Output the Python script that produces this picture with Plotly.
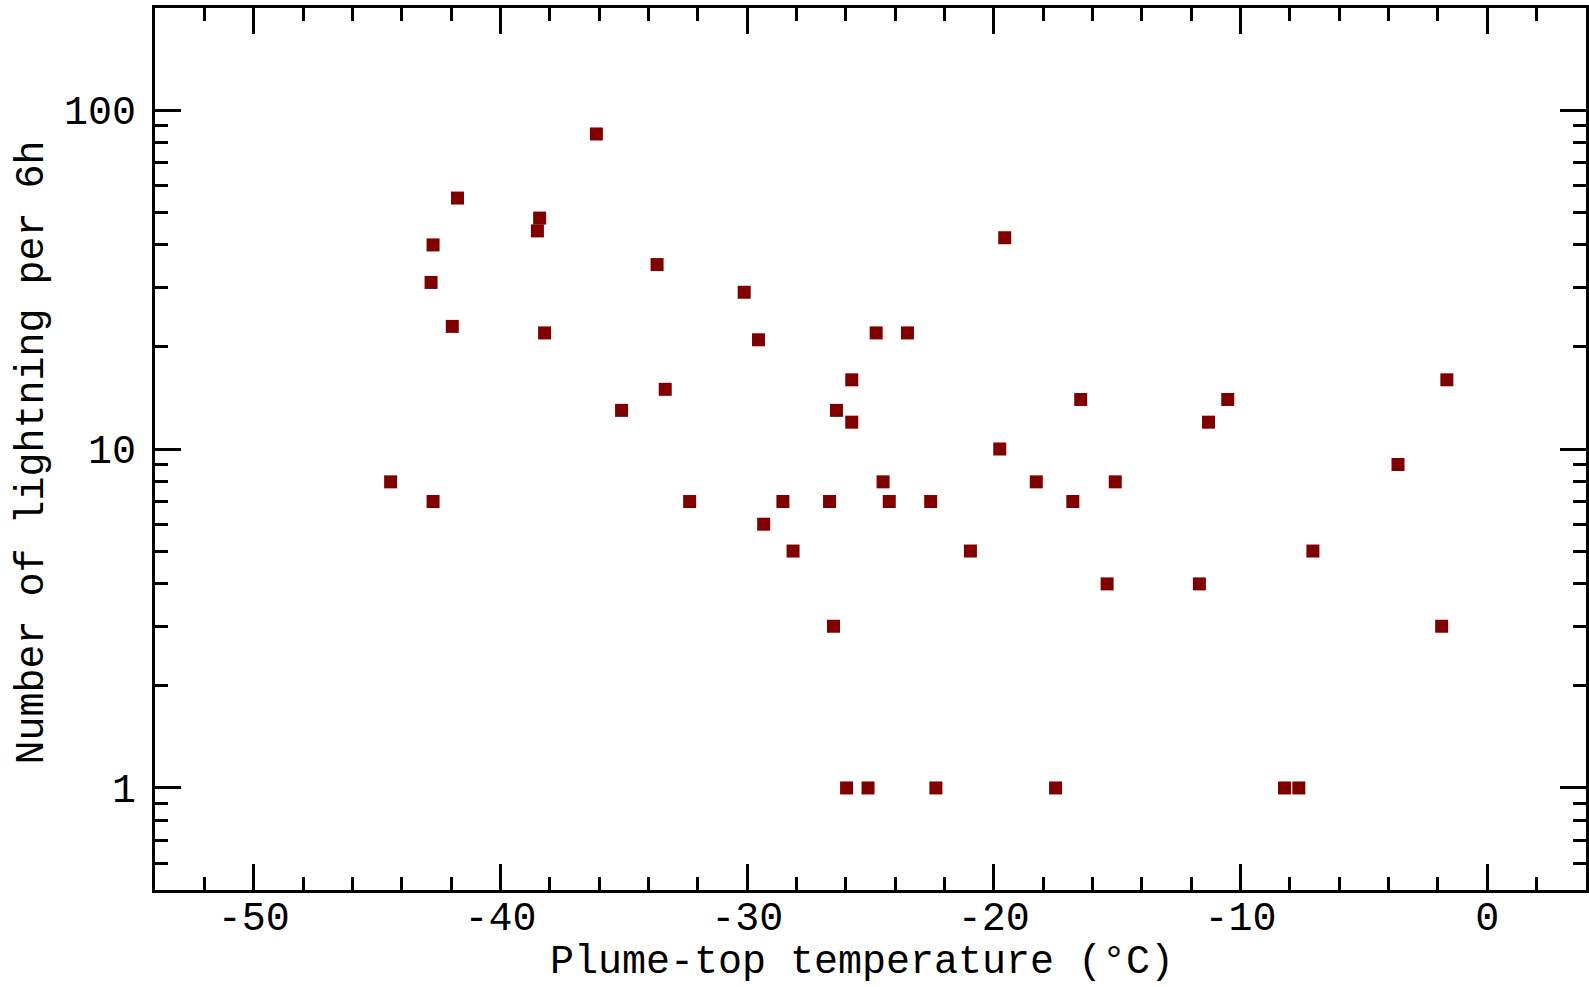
import plotly.graph_objects as go

# Plume-top temperature (°C)
temperature = [
    -44.45, -42.73, -42.73, -42.81, -41.95, -41.74, -38.41, -38.50, -38.21, -36.11,
    -35.09, -33.65, -33.32, -32.33, -30.12, -29.54, -29.33, -28.55, -28.14, -26.66,
    -26.50, -26.38, -25.76, -25.76, -25.97, -25.10, -24.77, -24.49, -24.24, -23.50,
    -22.56, -22.35, -20.95, -19.76, -19.56, -18.28, -17.50, -16.80, -16.48, -15.41,
    -15.08, -11.67, -11.30, -10.52, -8.22, -7.64, -7.07, -3.62, -1.85, -1.64,
]
# Number of lightning per 6h
lightning = [
    8, 7, 40, 31, 23, 55, 48, 44, 22, 85,
    13, 35, 15, 7, 29, 21, 6, 7, 5, 7,
    3, 13, 16, 12, 1, 1, 22, 8, 7, 22,
    7, 1, 5, 10, 42, 8, 1, 7, 14, 4,
    8, 4, 12, 14, 1, 1, 5, 9, 3, 16,
]

x_tickvals = [-50, -40, -30, -20, -10, 0]
x_ticktext = ["-50", "-40", "-30", "-20", "-10", "0"]
y_tickvals = [1, 10, 100]
y_ticktext = ["1", "10", "100"]

x_title = "Plume-top temperature (°C)"
y_title = "Number of lightning per 6h"

FONT = "Liberation Mono, DejaVu Sans Mono, monospace"
FS = 40

fig = go.Figure(
    go.Scatter(
        x=temperature,
        y=lightning,
        mode="markers",
        marker=dict(symbol="square", size=13, color="#800000", line=dict(width=0)),
        showlegend=False,
    )
)

axis_common = dict(
    showline=True,
    linecolor="black",
    linewidth=3,
    mirror="allticks",
    ticks="inside",
    ticklen=26,
    tickwidth=3,
    tickcolor="black",
    showgrid=False,
    zeroline=False,
    automargin=False,
    tickfont=dict(family=FONT, size=FS, color="black"),
)

fig.update_layout(
    width=1589,
    height=987,
    margin=dict(l=155, r=3, t=8, b=97),
    paper_bgcolor="white",
    plot_bgcolor="white",
    xaxis=dict(
        **axis_common,
        range=[-54, 4],
        tickmode="array",
        tickvals=x_tickvals,
        ticktext=x_ticktext,
        minor=dict(dtick=2, tick0=0, ticks="inside", ticklen=13, tickwidth=3, tickcolor="black"),
        ticklabelstandoff=-11,
    ),
    yaxis=dict(
        **axis_common,
        type="log",
        range=[-0.30103, 2.30103],
        tickmode="array",
        tickvals=y_tickvals,
        ticktext=y_ticktext,
        minor=dict(dtick="D1", ticks="inside", ticklen=13, tickwidth=3, tickcolor="black"),
        ticklabelstandoff=8,
    ),
    annotations=[
        dict(
            text=x_title, xref="paper", yref="paper", x=0.494, y=-0.1094,
            xanchor="center", yanchor="bottom", showarrow=False, borderpad=0,
            font=dict(family=FONT, size=FS, color="black"),
        ),
        dict(
            text=y_title, xref="paper", yref="paper", x=-0.0855, y=0.4955,
            xanchor="center", yanchor="middle", showarrow=False, textangle=-90,
            font=dict(family=FONT, size=FS, color="black"),
        ),
    ],
)

fig.write_html(
    "out.html",
    config={"displayModeBar": False},
    post_script="document.body.style.margin='0';document.documentElement.style.overflow='hidden';",
)
